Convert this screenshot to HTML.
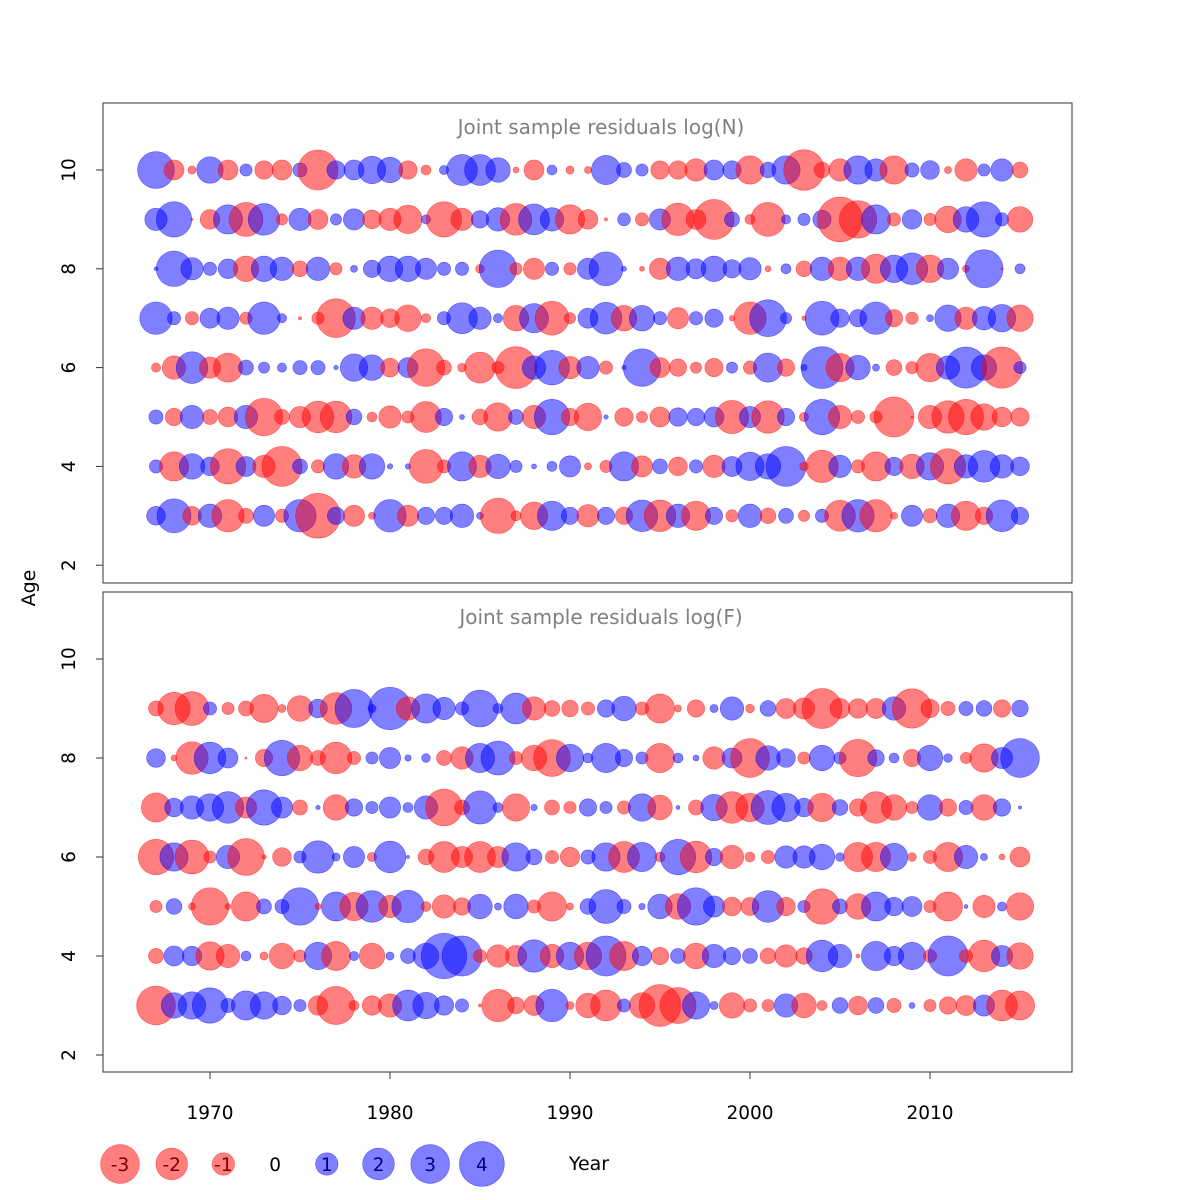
<!DOCTYPE html>
<html><head><meta charset="utf-8"><style>
html,body{margin:0;padding:0;background:#fff;}
svg{display:block;font-family:"DejaVu Sans","Liberation Sans",sans-serif;}
</style></head><body>
<svg id="chart" width="1200" height="1200" viewBox="0 0 1200 1200" xmlns="http://www.w3.org/2000/svg">
<rect x="0" y="0" width="1200" height="1200" fill="#fff"/>
<rect x="103" y="103" width="969" height="480" fill="none" stroke="#333" stroke-width="1"/>
<rect x="103" y="592" width="969" height="480" fill="none" stroke="#333" stroke-width="1"/>
<text x="601" y="134" text-anchor="middle" font-size="20" fill="#808080">Joint sample residuals log(N)</text>
<text x="601" y="624" text-anchor="middle" font-size="20" fill="#808080">Joint sample residuals log(F)</text>
<text x="0" y="0" transform="translate(35,588) rotate(-90)" text-anchor="middle" font-size="19" fill="#000">Age</text>
<g id="top-bubbles"></g>
<g id="bot-bubbles"></g>
<g id="axes"></g>
<g id="legend"></g>
<text x="589" y="1170" text-anchor="middle" font-size="19" fill="#000">Year</text>
</svg>
<script>
const years = [];
for (let y = 1967; y <= 2015; y++) years.push(y);
const ageTicks = [2, 4, 6, 8, 10];
const yearTicks = [1970, 1980, 1990, 2000, 2010];
const legendValues = [-3, -2, -1, 0, 1, 2, 3, 4];

const N10 = [2.7,-0.8,-0.13,1.4,-0.8,0.3,-0.67,-0.8,0.4,-3.2,0.67,0.8,1.5,1.3,-0.67,-0.2,0.17,1.9,1.9,1.2,-0.07,-0.8,0.2,-0.13,-0.1,1.7,0.45,0.3,-0.67,-0.67,-1,0.8,0.67,-1.6,0.5,1.6,-3.3,-0.5,-1,1.6,1,-1.6,0.4,0.7,-0.1,-1,0.3,1,-0.5];
const N9 = [1,2.5,-0.01,-0.77,1.7,-2.3,2,-0.25,1,-0.8,0.25,0.9,-0.7,-1,-1.6,0.17,-2.5,-1,0.6,1.1,-2,1.9,1.1,-1.7,-0.77,-0.02,0.33,-0.35,0.9,-2.1,-0.8,-3.2,0.45,-0.2,-2.3,0.17,0.3,0.67,-4,-2.8,1.7,-0.35,0.77,-0.3,-1.4,1.3,2.5,0.35,-1.3];
const N8 = [0.03,2.5,1,0.35,0.77,-1.3,1.3,1.1,-0.5,1.1,-0.3,0.1,0.6,1.3,1.3,0.9,0.35,0.35,-0.15,2.8,-0.3,-0.9,0.35,-0.3,0.9,2.3,0.05,-0.05,-0.9,1.1,0.8,1.3,0.67,1,-0.07,0.2,-0.5,1.1,-1.1,1.1,-1.7,1.5,2,-1.5,0.9,-0.1,2.9,-0.01,0.2];
const N7 = [2.1,0.35,-0.35,0.8,1,-0.3,2.1,0.17,-0.02,-0.3,-3,1,-1,-0.7,-1.4,-0.17,0.35,1.9,1,0.17,-1.3,1.7,-2.3,-0.25,0.8,2,-1.3,1.3,0.35,-0.9,0.35,0.67,-0.06,-2.1,2.7,0.25,-0.04,2.3,0.67,0.6,2.1,-0.6,-0.3,0.1,1.4,-1,1.1,1.5,-1.4];
const N6 = [-0.17,-1.1,2,-0.9,-1.7,0.45,0.25,0.17,0.4,0.4,0.04,1.5,1.3,-0.7,0.8,-2.8,-0.45,-0.15,-1.9,-0.3,-3.5,1.1,2.4,-1,1,-0.35,0.04,2.8,-0.8,-0.6,-0.25,-0.67,0.25,-0.35,1.7,-0.6,0.08,3.5,-1.6,1.2,0.1,-0.5,-0.3,-1.6,1.1,3.4,1.3,-3.4,0.3];
const N5 = [0.4,-0.6,1.1,-0.45,-0.77,1.1,-2.8,-0.45,-0.9,-2,-2,0.5,-0.2,-1,-0.3,-1.9,0.6,0.05,-0.5,-1.6,0.45,-1.1,2.5,-0.6,-1.5,0.04,-0.67,-0.25,-0.8,0.67,0.6,0.8,-2.2,0.9,-2.1,0.6,-0.17,2.5,-1.1,-0.35,-0.3,-3.2,-0.01,-1.1,-2.1,-2.5,-1.4,-0.77,-0.67];
const N4 = [0.35,-1.7,1.3,0.7,-2.5,0.8,-1,-3.2,0.45,-0.35,1.3,-1.1,1.3,0.06,0.06,-2.3,-0.35,1.7,-1,1.2,0.3,0.05,0.2,0.9,-0.1,-0.3,1.7,-0.9,0.45,-0.7,0.35,-1,0.8,1.6,1.3,3.2,-0.15,-2.1,1,-0.35,-1.7,0.67,-1.2,1.5,-2.5,1.1,2,1.1,0.7];
const N3 = [0.7,2.3,-0.7,1.1,-2.1,-0.45,0.9,-0.35,2.1,-4,0.6,-0.9,-0.1,2.1,-0.9,0.6,0.6,1.1,0.1,-2.5,-0.2,-1.5,1.7,0.6,-1,0.6,-0.6,2,-2,1.1,-1.7,0.6,-0.3,1.1,-0.5,0.45,-0.25,0.35,-1.9,2.1,-2.1,-0.1,0.9,-0.4,1.1,-1.7,-0.6,2,0.6];

const F9 = [-0.45,-2.1,-2.3,0.35,-0.3,-0.45,-1.6,-0.13,-1.3,0.7,-2,2.9,0.13,3.6,-1.1,1.7,1,0.35,2.7,0.2,1.9,-1.1,-0.5,-0.55,-0.35,0.6,1.2,-0.35,-1.7,-0.1,-0.6,0.13,1.1,-0.15,0.5,-0.8,-0.9,-3.2,-0.8,-0.75,-0.8,1.1,-3.1,-0.67,-0.4,0.4,0.5,-0.6,0.55];
const F8 = [0.7,-0.07,-2.1,2,0.8,-0.01,-0.6,2.5,-1.3,-0.45,-2,-0.35,0.3,0.9,0.08,0.15,-0.45,-1,1.7,2.3,-0.35,-1.3,-2.7,1.5,0.2,1.7,0.6,0.3,-1.7,0.2,0.07,-1,0.8,-3,1.2,0.7,-0.3,1.3,0.3,-2.8,0.55,0.2,-0.6,1.3,0.15,-0.25,-1.6,0.9,3];
const F7 = [-1.7,0.7,1.1,1.5,2,-0.9,2.5,0.9,-0.45,0.04,-1.3,0.6,0.3,0.9,0.2,1.1,-2.7,-0.45,2.2,0.2,-1.5,0.08,-0.45,-0.3,0.6,0.3,-0.35,1.5,-1.2,0.03,-0.45,1.4,-2,-1.6,2.3,1.6,0.7,-1.6,0.5,-0.6,-2,-1.3,-0.3,1.3,-0.6,0.4,-1.3,0.6,0.02];
const F6 = [-2.5,1.6,-2.3,-0.3,1.1,-2.7,-0.04,-0.7,0.3,2.1,0.13,0.9,-0.17,2,0.02,-0.5,-1.9,-0.9,-1.9,-0.9,1.6,0.5,-0.35,-0.75,0.4,1.6,-1.9,1.7,-0.2,2.5,-2,0.6,-1.1,-0.2,-0.35,1,1,1.3,0.15,-1.7,-1.7,1.5,-0.15,-0.35,-1.7,1.1,0.1,-0.07,-0.8];
const F5 = [-0.3,0.5,-0.1,-2.8,-0.07,-1.7,0.45,0.4,2.8,-0.08,1.7,-1.6,2,-1,2.1,-0.2,-1.1,-0.6,1.2,0.1,1.2,-0.35,-1.7,-0.1,0.5,2.3,0.4,0.08,1.2,-1.3,2.8,0.9,-0.7,-0.65,2,-0.7,0.3,-2.5,0.45,-1.3,1.7,0.7,0.8,-0.3,-1.7,0.03,-1,0.17,-1.5];
const F4 = [-0.45,0.8,0.75,-1.6,-1.1,0.2,-0.13,-1.3,-0.3,1.5,-1.7,0.17,-1.3,0.13,0.45,1.3,4.1,3.2,-0.35,-1,-0.9,2.1,-1.1,1.5,-1.5,3.2,-1.7,0.75,-0.6,0.45,-1.3,1.1,0.6,0.45,-0.5,-1,-0.55,2,1.1,-0.03,1.7,0.75,1.5,-0.35,3.2,-0.35,-2,0.9,-1.4];
const F3 = [-3,1.3,1.5,2.5,0.4,1.7,1.5,0.7,0.3,-0.75,-2.9,-0.2,-0.75,-1.1,1.9,1.4,0.75,0.35,-0.02,-2.1,-0.55,-0.8,2.1,-0.13,-1.2,-1.9,0.35,-1.3,-3.5,-2.6,1.5,0.13,-1.3,-0.35,-0.3,1.1,-1.2,-0.2,0.5,-0.7,0.5,-0.4,0.07,-0.3,-0.6,-0.8,0.9,-1.9,-1.7];

const topAges = [10, 9, 8, 7, 6, 5, 4, 3];
const topSeries = [N10, N9, N8, N7, N6, N5, N4, N3];
const botAges = [9, 8, 7, 6, 5, 4, 3];
const botSeries = [F9, F8, F7, F6, F5, F4, F3];

const NS = "http://www.w3.org/2000/svg";
const xScale = yr => 210 + (yr - 1970) * 18;
const yTop = a => 170 + (10 - a) * 49.4;
const yBot = a => 659 + (10 - a) * 49.5;
const rScale = v => 11.2 * Math.sqrt(Math.abs(v));
const RED = "rgba(255,0,0,0.5)", BLUE = "rgba(0,0,255,0.5)";

function mk(tag, attrs, parent) {
  const el = document.createElementNS(NS, tag);
  for (const k in attrs) el.setAttribute(k, attrs[k]);
  parent.appendChild(el);
  return el;
}

function drawPanel(gid, ages, series, yFn) {
  const g = document.getElementById(gid);
  ages.forEach((age, i) => {
    series[i].forEach((v, j) => {
      if (v === 0) return;
      const c = mk("circle", {cx: xScale(years[j]), cy: yFn(age), r: rScale(v),
        fill: v < 0 ? RED : BLUE, stroke: v < 0 ? "rgba(255,0,0,0.55)" : "rgba(0,0,255,0.55)", "stroke-width": 0.6}, g);
      
      
    });
  });
}
drawPanel("top-bubbles", topAges, topSeries, yTop);
drawPanel("bot-bubbles", botAges, botSeries, yBot);

const ax = document.getElementById("axes");
[yTop, yBot].forEach(fn => {
  ageTicks.forEach(a => {
    const y = fn(a);
    const t = mk("line", {x1: 96, x2: 103, y1: y, y2: y, stroke: "#333"}, ax);
    
    
    const l = mk("text", {transform: "translate(75," + y + ") rotate(-90)", "text-anchor": "middle", "font-size": 18.5, fill: "#000"}, ax);
    l.textContent = a;
    
    
  });
});
yearTicks.forEach(yr => {
  const x = xScale(yr);
  const t = mk("line", {x1: x, x2: x, y1: 1072, y2: 1079, stroke: "#333"}, ax);
  
  
  const l = mk("text", {x: x, y: 1119, "text-anchor": "middle", "font-size": 18.5, fill: "#000"}, ax);
  l.textContent = yr;
  
  
});

const lg = document.getElementById("legend");
legendValues.forEach((v, i) => {
  const cx = 120 + i * 51.7;
  if (v !== 0) {
    const c = mk("circle", {cx: cx, cy: 1164, r: rScale(v), fill: v < 0 ? RED : BLUE,
      stroke: v < 0 ? "rgba(255,0,0,0.55)" : "rgba(0,0,255,0.55)", "stroke-width": 0.6}, lg);
    
    
  }
  const t = mk("text", {x: cx, y: 1171, "text-anchor": "middle", "font-size": 18.5,
    fill: v < 0 ? "#7a0000" : (v > 0 ? "#00007a" : "#000")}, lg);
  t.textContent = v;
  
  
});
</script>
</body></html>
